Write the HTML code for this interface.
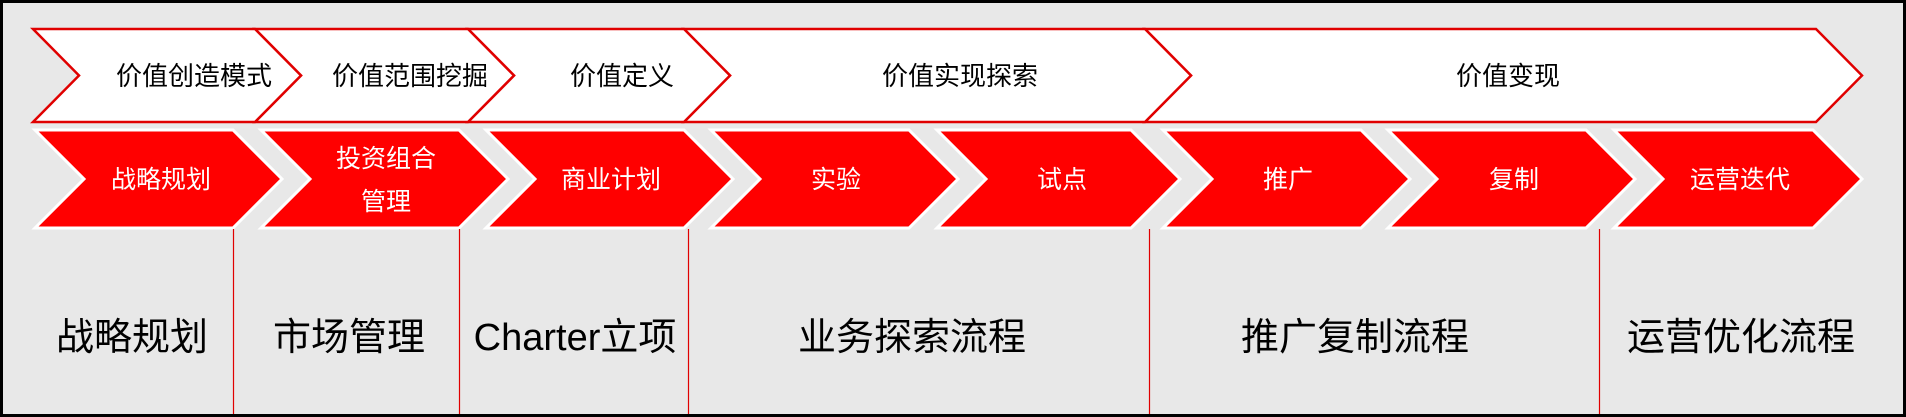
<!DOCTYPE html>
<html><head><meta charset="utf-8"><style>
html,body{margin:0;padding:0;background:#fff}
svg{display:block}
text{font-family:"Liberation Sans","Noto Sans CJK SC",sans-serif}
</style></head><body>
<svg width="1906" height="417" viewBox="0 0 1906 417" xmlns="http://www.w3.org/2000/svg">
<rect x="0" y="0" width="1906" height="417" fill="#000"/>
<rect x="3" y="3" width="1900" height="411" fill="#e8e8e8"/>
<g fill="#fff" stroke="#e00000" stroke-width="2.5" stroke-linejoin="miter">
<polygon points="1145,29 1816,29 1862,75.5 1816,122 1145,122 1191,75.5"/>
<polygon points="684,29 1145,29 1191,75.5 1145,122 684,122 730,75.5"/>
<polygon points="468,29 684,29 730,75.5 684,122 468,122 514,75.5"/>
<polygon points="255,29 468,29 514,75.5 468,122 255,122 301,75.5"/>
<polygon points="33,29 255,29 301,75.5 255,122 33,122 79,75.5"/>
</g>
<g font-size="26" fill="#000" text-anchor="middle">
<text x="194" y="85">价值创造模式</text>
<text x="410" y="85">价值范围挖掘</text>
<text x="622" y="85">价值定义</text>
<text x="960" y="85">价值实现探索</text>
<text x="1508" y="85">价值变现</text>
</g>
<g fill="#ff0000" stroke="#fff" stroke-width="3">
<polygon points="35,130 233,130 282,179 233,228 35,228 84,179"/>
<polygon points="261,130 459,130 508,179 459,228 261,228 310,179"/>
<polygon points="486,130 684,130 733,179 684,228 486,228 535,179"/>
<polygon points="711,130 909,130 958,179 909,228 711,228 760,179"/>
<polygon points="937,130 1131,130 1180,179 1131,228 937,228 986,179"/>
<polygon points="1163,130 1361,130 1410,179 1361,228 1163,228 1212,179"/>
<polygon points="1388,130 1586,130 1635,179 1586,228 1388,228 1437,179"/>
<polygon points="1614,130 1813,130 1862,179 1813,228 1614,228 1663,179"/>
</g>
<g font-size="25" fill="#fff" text-anchor="middle">
<text x="161" y="188">战略规划</text>
<text x="386" y="167">投资组合</text>
<text x="386" y="210">管理</text>
<text x="611" y="188">商业计划</text>
<text x="836" y="188">实验</text>
<text x="1062" y="188">试点</text>
<text x="1288" y="188">推广</text>
<text x="1514" y="188">复制</text>
<text x="1740" y="188">运营迭代</text>
</g>
<g stroke="#e00000" stroke-width="1.2">
<line x1="233.5" y1="229" x2="233.5" y2="414"/>
<line x1="459.5" y1="229" x2="459.5" y2="414"/>
<line x1="688.5" y1="229" x2="688.5" y2="414"/>
<line x1="1149.5" y1="229" x2="1149.5" y2="414"/>
<line x1="1599.5" y1="229" x2="1599.5" y2="414"/>
</g>
<g font-size="38" fill="#000" text-anchor="middle">
<text x="132" y="350">战略规划</text>
<text x="349" y="350">市场管理</text>
<text x="575" y="350">Charter立项</text>
<text x="912" y="350">业务探索流程</text>
<text x="1355" y="350">推广复制流程</text>
<text x="1741" y="350">运营优化流程</text>
</g>
</svg>
</body></html>
